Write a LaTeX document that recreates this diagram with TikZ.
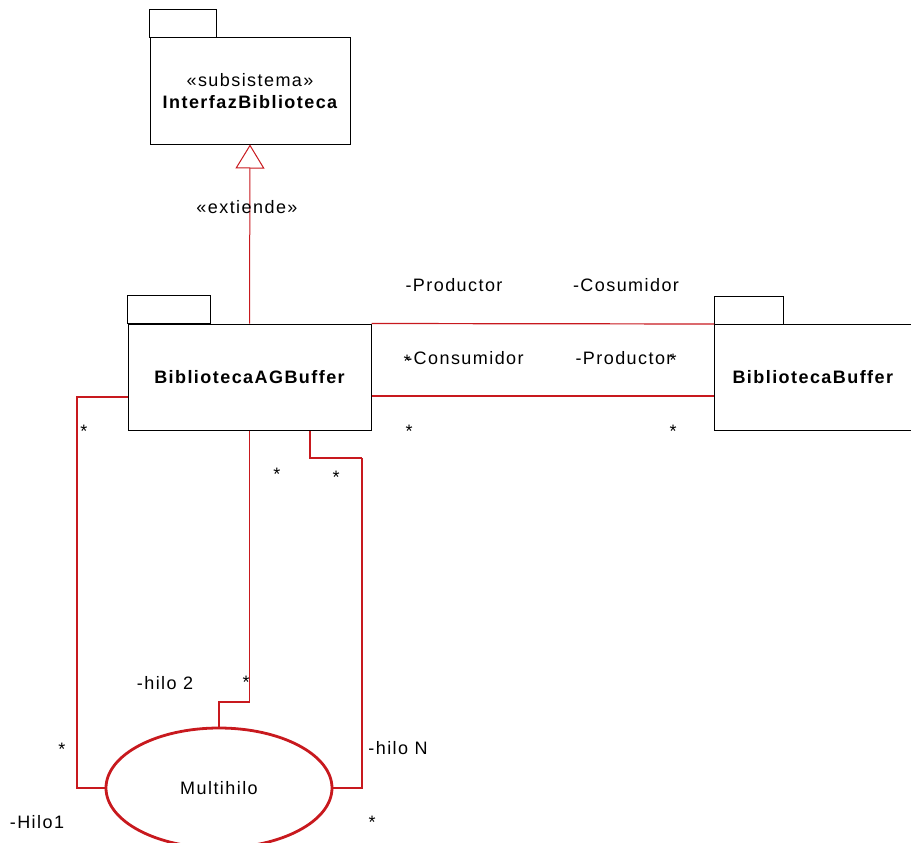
\documentclass[tikz,border=0pt]{standalone}
\usepackage{fontspec}
\setmainfont{Liberation Sans}[LetterSpace=8]
\usetikzlibrary{arrows.meta,shapes,calc}
\definecolor{umlred}{RGB}{200,25,30}

\begin{document}
\begin{tikzpicture}[x=1pt,y=-1pt,
		every node/.style={font=\fontsize{18}{22}\selectfont},
		pkg/.style={rectangle, draw, line width=1pt, inner sep=0pt, font=\fontsize{18}{22}\selectfont\bfseries},
		lbl/.style={inner sep=0pt},
		assoc/.style={draw=umlred, line width=1.2pt},
		heavy/.style={draw=umlred, line width=2.8pt}]
		\clip (0,0) rectangle (911,843);

		\path (250,91) node[pkg, minimum width=200pt, minimum height=106pt, align=center] (iface) {{\mdseries «subsistema»}\\InterfazBiblioteca}
		(249.5,377) node[pkg, minimum width=243pt, minimum height=106pt] (ag) {BibliotecaAGBuffer}
		(714,324) node[pkg, anchor=north west, minimum width=240pt, minimum height=106pt] (buf) {}
		(219,788) node[ellipse, draw=umlred, line width=2.8pt, minimum width=226pt, minimum height=120pt] (multi) {Multihilo};
		\node[pkg, draw=none, anchor=west] (buftxt) at ([xshift=18pt]buf.west) {BibliotecaBuffer};

		% package tabs
		\draw[line width=1pt] (iface.north west) rectangle ++(67,-28);
		\draw[line width=1pt] (ag.north west) rectangle ++(83,-28);
		\draw[line width=1pt] (buf.north west) rectangle ++(69,-28);

		\coordinate (lowY) at (0,396);
		\coordinate (h1top) at (77,397);
		\coordinate (h1) at (77,788);
		\coordinate (h2) at (219,702);
		\coordinate (rjog) at (310,458);
		\coordinate (hN) at (362,458);

		\draw[umlred, line width=1pt, -{Triangle[open, length=24pt, width=29pt, fill=white]}] (ag.north) -- (iface.south);
		\draw[assoc] (ag.north east) -- (buf.north west);
		\draw[assoc] (ag.east |- lowY) -- (buf.west |- lowY);
		\draw[assoc] (ag.west |- h1top) -- (h1top) -- (h1) -- (multi.west);
		\draw[assoc] (ag.south) |- (h2) -- (multi.north);
		\draw[assoc] (ag.south -| rjog) -- (rjog) -- (hN);
		\draw[heavy] (hN) |- (multi.east);

		\path (247,207) node[lbl] (ext) {«extiende»}
		(454,285) node[lbl] (prod1) {-Productor}
		(626,285) node[lbl] (cons1) {-Cosumidor}
		(465,358) node[lbl] (cons2) {-Consumidor}
		(624,358) node[lbl] (prod2) {-Productor}
		(407,361) node[lbl] (m1) {*}
		(673,360) node[lbl] (m2) {*}
		(409,431) node[lbl] (m3) {*}
		(673,431) node[lbl] (m4) {*}
		(84,431) node[lbl] (m5) {*}
		(62,749) node[lbl] (m6) {*}
		(37,822) node[lbl] (hilo1) {-Hilo1}
		(277,474) node[lbl] (m7) {*}
		(246,682) node[lbl] (m8) {*}
		(165,683) node[lbl] (hilo2) {-hilo 2}
		(336,477) node[lbl] (m9) {*}
		(398,748) node[lbl] (hiloN) {-hilo N}
		(372,822) node[lbl] (m10) {*};
	\end{tikzpicture}
\end{document}
